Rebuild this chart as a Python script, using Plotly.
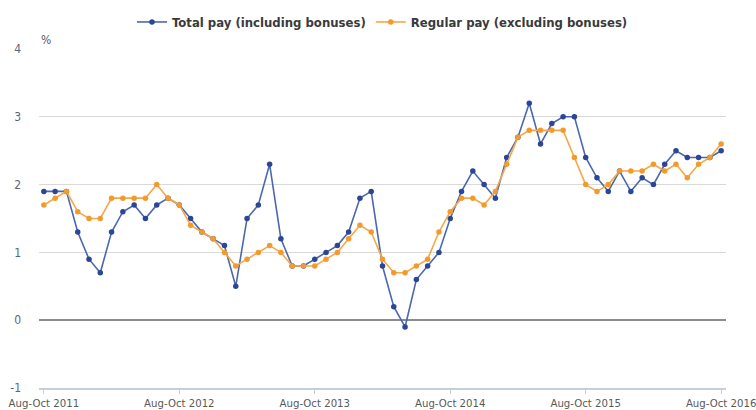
import plotly.graph_objects as go

months = ["Jan", "Feb", "Mar", "Apr", "May", "Jun", "Jul", "Aug", "Sep", "Oct", "Nov", "Dec"]
periods = []
for k in range(61):
    m0 = (7 + k) % 12
    m2 = (m0 + 2) % 12
    year = 2011 + (7 + k + 2) // 12
    periods.append(f"{months[m0]}-{months[m2]} {year}")

total_pay = [1.9, 1.9, 1.9, 1.3, 0.9, 0.7, 1.3, 1.6, 1.7, 1.5, 1.7, 1.8,
             1.7, 1.5, 1.3, 1.2, 1.1, 0.5, 1.5, 1.7, 2.3, 1.2, 0.8, 0.8,
             0.9, 1.0, 1.1, 1.3, 1.8, 1.9, 0.8, 0.2, -0.1, 0.6, 0.8, 1.0,
             1.5, 1.9, 2.2, 2.0, 1.8, 2.4, 2.7, 3.2, 2.6, 2.9, 3.0, 3.0,
             2.4, 2.1, 1.9, 2.2, 1.9, 2.1, 2.0, 2.3, 2.5, 2.4, 2.4, 2.4, 2.5]
regular_pay = [1.7, 1.8, 1.9, 1.6, 1.5, 1.5, 1.8, 1.8, 1.8, 1.8, 2.0, 1.8,
               1.7, 1.4, 1.3, 1.2, 1.0, 0.8, 0.9, 1.0, 1.1, 1.0, 0.8, 0.8,
               0.8, 0.9, 1.0, 1.2, 1.4, 1.3, 0.9, 0.7, 0.7, 0.8, 0.9, 1.3,
               1.6, 1.8, 1.8, 1.7, 1.9, 2.3, 2.7, 2.8, 2.8, 2.8, 2.8, 2.4,
               2.0, 1.9, 2.0, 2.2, 2.2, 2.2, 2.3, 2.2, 2.3, 2.1, 2.3, 2.4, 2.6]
tick_labels = ["Aug-Oct 2011", "Aug-Oct 2012", "Aug-Oct 2013",
               "Aug-Oct 2014", "Aug-Oct 2015", "Aug-Oct 2016"]
y_ticks = [-1, 0, 1, 2, 3, 4]
y_tick_text = ["-1", "0", "1", "2", "3", "4"]

font_family = "DejaVu Sans Condensed, DejaVu Sans, sans-serif"

fig = go.Figure()
fig.add_trace(go.Scatter(
    x=periods, y=total_pay, mode="lines+markers",
    name="Total pay (including bonuses)",
    line=dict(color="#4a68b0", width=1.6),
    marker=dict(color="#2b4696", size=5.5),
))
fig.add_trace(go.Scatter(
    x=periods, y=regular_pay, mode="lines+markers",
    name="Regular pay (excluding bonuses)",
    line=dict(color="#f7a745", width=1.6),
    marker=dict(color="#f39a2c", size=5.5),
))

fig.update_layout(
    width=756, height=410,
    margin=dict(l=39, r=30, t=49, b=22, autoexpand=False),
    paper_bgcolor="white", plot_bgcolor="white",
    font=dict(family=font_family, color="#595959", size=12),
    showlegend=True,
    legend=dict(orientation="h", x=0.5, xanchor="center",
                y=1 - 22 / 410, yref="container", yanchor="middle",
                font=dict(size=13, color="#3a3a3a", weight="bold"),
                traceorder="normal", itemwidth=30, tracegroupgap=0),
    xaxis=dict(
        type="category",
        range=[-0.43, 60.43],
        tickvals=tick_labels, ticktext=tick_labels,
        showgrid=False, zeroline=False, automargin=False,
        showline=True, linecolor="#c5cedb", linewidth=1.5,
        ticks="outside", ticklen=4, tickcolor="#c5cedb",
        tickfont=dict(size=11.3, color="#595959"),
    ),
    yaxis=dict(
        range=[-1, 4],
        tickvals=y_ticks, ticktext=y_tick_text,
        showgrid=True, gridcolor="#d9d9d9", gridwidth=1,
        zeroline=True, zerolinecolor="#8c8c8c", zerolinewidth=2,
        showline=False, ticks="", automargin=False,
        ticklabelstandoff=17,
        tickfont=dict(size=12, color="#5a6478"),
    ),
    annotations=[dict(
        text="%", xref="paper", yref="paper", x=0.0, y=1.0,
        xanchor="left", yanchor="bottom", showarrow=False,
        font=dict(size=12, color="#595959"),
    )],
)

fig.write_html("out.html", config={"displayModeBar": False},
               post_script="document.body.style.margin='0';document.body.style.padding='0';")
